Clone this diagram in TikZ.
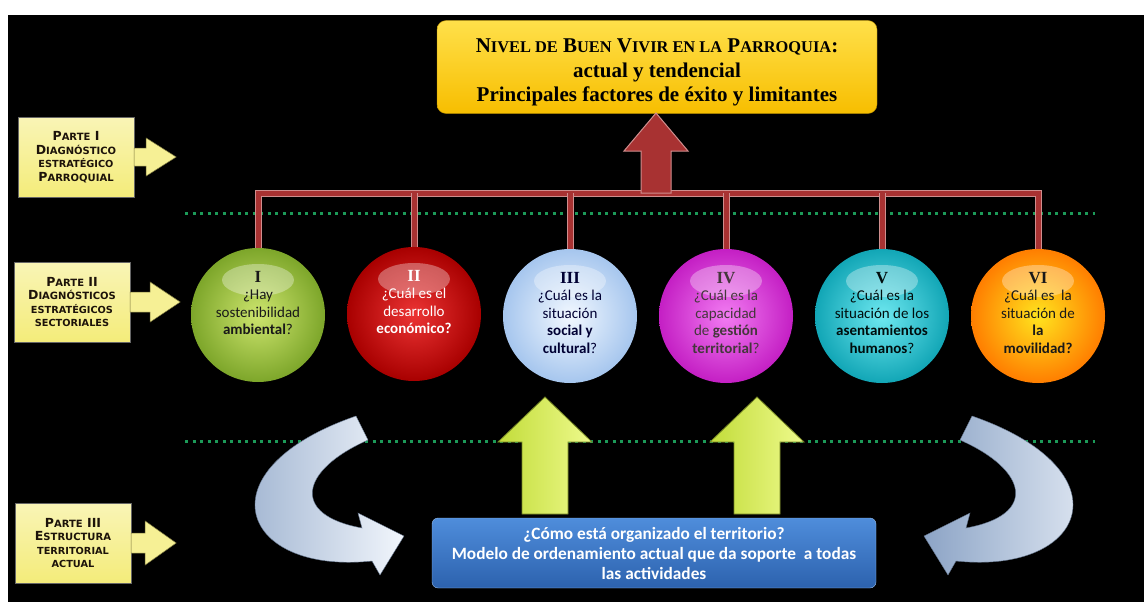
\documentclass[tikz,border=0pt]{standalone}
\usepackage{fontspec}
\setmainfont{Liberation Serif}
\newfontfamily\carlito{Carlito}
\newfontfamily\plate{DejaVu Sans}
\usepackage{tikz}
\usetikzlibrary{positioning}

\definecolor{goldtop}{HTML}{FFE04A}
\definecolor{goldbot}{HTML}{F7BE00}
\definecolor{partyel}{HTML}{F4EC7A}
\definecolor{barred}{HTML}{A83232}
\definecolor{dotgreen}{HTML}{1C9A58}
\definecolor{limeA}{HTML}{C2DC3A}
\definecolor{limeB}{HTML}{EEFA8C}
\definecolor{bluetop}{HTML}{4F8DDB}
\definecolor{bluebot}{HTML}{2C62AE}
\definecolor{curlA}{HTML}{8CA4C6}
\definecolor{curlB}{HTML}{F2F6FC}
\definecolor{ambIn}{HTML}{CDE56E}  \definecolor{ambOut}{HTML}{7DA62A}
\definecolor{ecoIn}{HTML}{EC3434}  \definecolor{ecoOut}{HTML}{A80000}
\definecolor{socIn}{HTML}{F2F8FF}  \definecolor{socOut}{HTML}{A6C6EE}
\definecolor{gesIn}{HTML}{F27CF2}  \definecolor{gesOut}{HTML}{C41FC4}
\definecolor{aseIn}{HTML}{6EE8F0}  \definecolor{aseOut}{HTML}{12A6B6}
\definecolor{movIn}{HTML}{FFE41E}  \definecolor{movOut}{HTML}{FF7E00}

\newcommand\smc[1]{\scalebox{0.78}{#1}}
\newcommand\pc[2]{#1\scalebox{0.8}{#2}}
\newcommand\rnum[1]{{\rmfamily\bfseries\fontsize{17}{18}\selectfont #1}}
\newcommand\blockarr[7]{%
  \begin{scope}[shift={#2},rotate=#3]
    \path[#1] (0,{-#5}) -- ({#4-#7},{-#5}) -- ({#4-#7},{-#6}) -- (#4,0)
      -- ({#4-#7},#6) -- ({#4-#7},#5) -- (0,#5) -- cycle;
  \end{scope}}

\begin{document}
\begin{tikzpicture}[x=1pt,y=-1pt,
  topbox/.style={draw=goldbot!70!black,top color=goldtop,bottom color=goldbot,
                 rounded corners=9pt,minimum width=440,minimum height=93,
                 align=center,font=\bfseries\fontsize{21}{24.5}\selectfont},
  partbox/.style={draw=black!60,top color=partyel!55!white,bottom color=partyel,
                  minimum width=116,minimum height=80,align=center,
                  text=black!85!brown,
                  font=\plate\bfseries\fontsize{12.5}{13.5}\selectfont},
  bubble/.style 2 args={circle,minimum size=134,inner sep=0pt,
                        inner color=#1,outer color=#2},
  qtext/.style={anchor=north,inner sep=0pt,align=center,
                font=\carlito\fontsize{15}{17.5}\selectfont},
  gloss/.style={white,opacity=.33},
  modelbox/.style={draw=bluetop!60!white,top color=bluetop,bottom color=bluebot,
                   rounded corners=6pt,minimum width=444,minimum height=70,
                   align=center,text=white,
                   font=\carlito\bfseries\fontsize{17.3}{20}\selectfont},
  sepline/.style={draw=dotgreen,line width=3pt,dash pattern=on 3pt off 4.5pt},
  redbar/.style={draw=barred!55!white,line width=1pt,double=barred,
                 double distance=5pt},
  redarr/.style={fill=barred,draw=barred!55!white,line width=1pt},
  limearr/.style={left color=limeA,right color=limeB,draw=limeA!60!black,
                  line width=.8pt},
  sidearr/.style={fill=partyel!80!white,draw=partyel!50!black,line width=.5pt},
  curl/.style={left color=curlA,right color=curlB,draw=curlA!70!black,
               line width=.4pt}]

  \fill[white] (0,0) rectangle (1144,602);
  \fill[black] (8,15) rectangle (1144,602);
  \useasboundingbox (0,0) rectangle (1144,602);

  % separators
  \coordinate (s1w) at (185,213); \coordinate (s1e) at (1095,213);
  \coordinate (s2w) at (185,441); \coordinate (s2e) at (1095,441);
  \draw[sepline] (s1w) -- (s1e);
  \draw[sepline] (s2w) -- (s2e);

  % nodes
  \node[topbox] (nivel) at (657,67)
    {\rule{0pt}{25pt}N\smc{IVEL DE} B\smc{UEN} V\smc{IVIR EN LA} P\smc{ARROQUIA}:\\
     actual y tendencial\\ Principales factores de éxito y limitantes};

  \node[partbox] (p1) at (76,157)
    {\pc{P}{ARTE} I\\ \pc{D}{IAGNÓSTICO}\\ \smc{ESTRATÉGICO}\\ \pc{P}{ARROQUIAL}};
  \node[partbox] (p2) at (72,302)
    {\pc{P}{ARTE} II\\ \pc{D}{IAGNÓSTICOS}\\ \smc{ESTRATÉGICOS}\\ \smc{SECTORIALES}};
  \node[partbox] (p3) at (73,543)
    {\pc{P}{ARTE} III\\ \pc{E}{STRUCTURA}\\ \smc{TERRITORIAL}\\ \smc{ACTUAL}};

  \node[modelbox] (modelo) at (654,553)
    {¿Cómo está organizado el territorio?\\
     Modelo de ordenamiento actual que da soporte~ a todas\\ las actividades};

  % circles
  \node[bubble={ambIn}{ambOut}] (c1) at (258,315) {};
  \node[bubble={ecoIn}{ecoOut}] (c2) at (414,314) {};
  \node[bubble={socIn}{socOut}] (c3) at (570,316) {};
  \node[bubble={gesIn}{gesOut}] (c4) at (726,316) {};
  \node[bubble={aseIn}{aseOut}] (c5) at (882,316) {};
  \node[bubble={movIn}{movOut}] (c6) at (1038,316) {};
  \foreach \c in {c1,c2,c3,c4,c5,c6}
    \fill[gloss] ([yshift=35pt]\c.center) ellipse [x radius=36,y radius=16];

  % bar and drops
  \coordinate (hub) at (656,193);
  \draw[redbar] (c1.north) |- (c6.north |- hub) -- (c6.north);
  \foreach \c in {c2,c3,c4,c5}
    \draw[redbar] (\c.north) -- (\c.north |- hub);
  \blockarr{redarr}{(hub)}{90}{80}{15}{32}{38}

  \node[qtext,text=black!90] (t1) at ([yshift=-23pt]c1.north)
    {\rnum{I}\\ ¿Hay\\ sostenibilidad\\ \textbf{ambiental}?};
  \node[qtext,text=white] (t2) at ([yshift=-23pt]c2.north)
    {\rnum{II}\\ ¿Cuál es el\\ desarrollo\\ \textbf{económico?}};
  \node[qtext,text=black!80!blue] (t3) at ([yshift=-23pt]c3.north)
    {\rnum{III}\\ ¿Cuál es la\\ situación\\ \textbf{social y}\\ \textbf{cultural}?};
  \node[qtext,text=black!85!magenta] (t4) at ([yshift=-23pt]c4.north)
    {\rnum{IV}\\ ¿Cuál es la\\ capacidad\\ de \textbf{gestión}\\ \textbf{territorial}?};
  \node[qtext,text=black!90!teal] (t5) at ([yshift=-23pt]c5.north)
    {\rnum{V}\\ ¿Cuál es la\\ situación de los\\ \textbf{asentamientos}\\ \textbf{humanos}?};
  \node[qtext,text=black!90] (t6) at ([yshift=-23pt]c6.north)
    {\rnum{VI}\\ ¿Cuál es~ la\\ situación de\\ \textbf{la}\\ \textbf{movilidad?}};

  % arrows
  \coordinate (g1) at (545,514); \coordinate (g2) at (757,514);
  \blockarr{limearr}{(g1)}{90}{117}{23}{47}{45}
  \blockarr{limearr}{(g2)}{90}{117}{23}{47}{45}

  \blockarr{sidearr}{(p1.east)}{0}{42}{9}{19}{30}
  \blockarr{sidearr}{(p2.east)}{0}{50}{10}{20}{30}
  \blockarr{sidearr}{(p3.east)}{0}{45}{10}{22}{31}

  \path[curl] (356,416) -- (368,440) .. controls (300,470) and (290,515) .. (362,528)
    -- (358,513) -- (404,536) -- (380,575) -- (372,561)
    .. controls (240,575) and (200,470) .. (356,416) -- cycle;
  \begin{scope}[xshift=1328pt,xscale=-1]
    \path[curl] (356,416) -- (368,440) .. controls (300,470) and (290,515) .. (362,528)
      -- (358,513) -- (404,536) -- (380,575) -- (372,561)
      .. controls (240,575) and (200,470) .. (356,416) -- cycle;
  \end{scope}
\end{tikzpicture}
\end{document}
